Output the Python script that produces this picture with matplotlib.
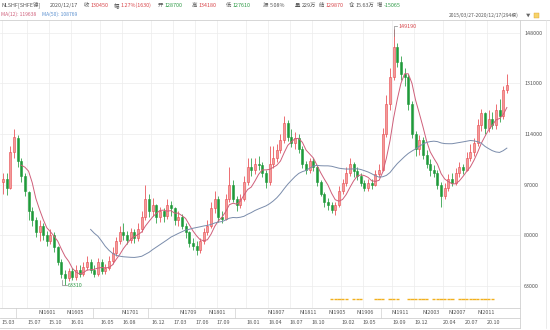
import numpy as np
import pandas as pd
import matplotlib
matplotlib.use('Agg')
import matplotlib.pyplot as plt
from matplotlib.lines import Line2D
from matplotlib.patches import Rectangle
from matplotlib.transforms import blended_transform_factory

plt.rcParams['font.family'] = ['Noto Sans CJK SC', 'DejaVu Sans']

# 半月K线 (单位: 千元/吨), 2015/03 下半月 -> 2020/12 下半月
opens = [98, 99, 96, 108, 112.5, 105, 100, 94.5, 88, 85,
         81, 83, 80, 78, 80, 76, 71, 67, 65.5, 68,
         66, 68.5, 67, 69.5, 71, 68.5, 67, 71, 68, 69,
         71.5, 74, 78, 81, 80, 78.5, 81, 79, 82, 86,
         92, 88, 90, 86, 88, 86.5, 90, 89, 85, 86,
         83, 81, 77.5, 76.5, 75, 78, 81, 83, 89, 92,
         86, 85.5, 92, 97, 92, 90, 92, 98, 103, 102,
         104, 103.5, 101, 98, 104, 106, 108.5, 112, 117.5, 113,
         111, 112.5, 109, 104, 102, 105, 103, 98, 94, 91,
         90, 88.5, 90, 95, 97.5, 101, 104, 101.5, 100, 97.5,
         96, 97.5, 97, 100.5, 102, 114, 124, 133, 143, 138,
         134, 133, 124, 114, 109, 112, 107, 104, 102, 101,
         97, 93, 96, 99, 97.5, 101, 103, 102, 106, 108,
         111, 117, 121, 116, 119, 117, 122, 120, 128.7]
highs = [101, 101, 110, 115.5, 113.5, 106, 101, 95, 89.5, 86,
         85, 84, 81.5, 82, 81, 76.5, 72, 68.5, 69, 69,
         70, 70, 71, 73, 72, 70, 72.5, 72, 70.5, 73,
         76, 79.5, 83, 84, 81.5, 82.5, 82, 84, 88, 97,
         94, 92.5, 90.5, 89.5, 89, 92, 91.5, 89.5, 88, 87,
         84, 81.5, 79, 78, 79, 82.5, 85, 91, 95, 93,
         88, 94, 103, 98.5, 93, 94, 100, 106, 106, 106,
         106.5, 104.5, 102, 110, 110, 110.5, 114, 119.9, 118.5, 115.5,
         114.5, 114, 110, 105, 106, 106, 103.5, 98.5, 94.5, 92.5,
         91, 91, 96.5, 99, 103, 106, 104.5, 103, 101, 98.5,
         99, 99, 102, 104, 116, 127, 136, 149.19, 144.5, 140,
         136, 134, 125, 115, 113.5, 113, 108.5, 105.5, 103.5, 102,
         98, 97.5, 100.5, 101, 102.5, 104.5, 104, 108, 110.5, 112.5,
         119, 122.5, 121.5, 122, 121.5, 124, 125.6, 130, 134.18]
lows = [94, 93.5, 95.5, 106, 103, 98, 93, 85, 83, 79.5,
        78, 78.5, 76.5, 77, 74.5, 70, 65.5, 63.31, 64.5, 65,
        65, 66, 66.5, 68.5, 67.5, 66, 66.5, 67, 67, 68.5,
        70.5, 73, 77, 78.5, 77, 77.5, 77.5, 78, 81, 85,
        86, 86.5, 84, 84.5, 84.5, 85.5, 86.5, 83.5, 83, 82,
        79, 76, 75, 73.5, 74, 77, 80, 82.5, 87.5, 84.5,
        84, 85, 91, 91, 88, 89, 91.5, 97, 100, 100.5,
        102, 99.5, 96, 97, 102.5, 104.5, 107.5, 111, 111.5, 109.5,
        109, 107.5, 102.5, 100.5, 101, 101.5, 96.5, 93, 89.5, 88.5,
        87.5, 86.9, 89.5, 94, 96.5, 100, 99.5, 98.5, 96.5, 95,
        95, 95.5, 96.5, 99.5, 101.5, 113, 122, 132, 136.5, 132,
        130, 122, 112.5, 106.5, 107, 105.5, 102.5, 100, 99.5, 95.5,
        89.6, 92, 95, 96.5, 97, 99.5, 100.5, 101.5, 105, 106.5,
        110, 115, 114, 114.5, 115.5, 115.5, 118, 119, 127.61]
closes = [99, 96, 108, 113, 105, 100, 95, 88, 85, 81,
          83, 80, 78, 80, 76, 71, 67, 65.5, 68, 66,
          68.5, 67, 69.5, 71, 68.5, 67, 71, 68, 69, 71.5,
          74, 78, 81, 80, 78.5, 81, 79, 82, 86, 92,
          88, 90, 86, 88, 86.5, 90, 89, 85, 86, 83,
          81, 77.5, 76.5, 75, 78, 81, 83, 89, 92, 86,
          85.5, 92, 97, 92, 90, 92, 98, 103, 102, 104,
          103.5, 101, 98, 104, 106, 108.5, 112, 117.5, 113, 111,
          112.5, 109, 104, 102, 105, 103, 98, 94, 91, 90,
          88.5, 90, 95, 97.5, 101, 104, 101.5, 100, 97.5, 96,
          97.5, 97, 100.5, 102, 114, 124, 133, 143, 138, 134,
          133, 124, 114, 109, 112, 107, 104, 102, 101, 97,
          93, 96, 99, 97.5, 101, 103, 102, 106, 108, 111,
          117, 121, 116, 119, 117, 122, 120, 128.7, 130.45]

price_ticks = [63000, 80000, 97000, 114000, 131000, 148000]
date_labels = ['15.03', '15.07', '15.10', '16.01', '16.05', '16.08', '16.12',
               '17.03', '17.06', '17.09', '18.01', '18.04', '18.07', '18.10',
               '19.02', '19.05', '19.09', '19.12', '20.04', '20.07', '20.10']
contract_labels = ['NI1601', 'NI1605', 'NI1701', 'NI1709', 'NI1801', 'NI1807', 'NI1811',
                   'NI1905', 'NI1906', 'NI1911', 'NI2003', 'NI2007', 'NI2011']
contract_pos = [12.2, 19.7, 34.8, 50.7, 58.6, 74.8, 83.6, 91.5, 99.2, 108.8, 117.3, 124.4, 132.3]
contract_seps = [3.6, 24.6, 39.7, 63.5, 103.5]
signal_bars = [90, 91, 92, 93, 94, 96, 97, 98, 102, 103, 104, 106, 107, 108,
               111, 112, 113, 114, 115, 116, 118, 119, 120, 121, 122, 123,
               125, 126, 127, 128, 129, 130, 131, 132, 133, 134]

df = pd.DataFrame({'open': opens, 'high': highs, 'low': lows, 'close': closes}) * 1000
df['ma12'] = df['close'].rolling(6).mean()
df['ma50'] = df['close'].rolling(25).mean()
x = np.arange(len(df))

W, H = 550, 330
def fx(px):
    return px / W
def fy(py):
    return 1 - py / H

fig = plt.figure(figsize=(5.5, 3.3), dpi=100)
ax = fig.add_axes([0, fy(308), fx(520), (308 - 20) / H])

# K线
up = df['close'] >= df['open']
col = np.where(up, '#e8474c', '#1f9a3a')
face = np.where(up, '#f29a9a', '#1f9a3a')
ax.vlines(x, df['low'], df['high'], colors=col, lw=0.55, zorder=3)
body = (df['close'] - df['open']).abs().clip(lower=250)
ax.bar(x, body, bottom=np.minimum(df['open'], df['close']), width=0.55,
       color=face, edgecolor=col, linewidth=0.4, zorder=4)

ax.plot(x, df['ma12'], color='#cf5f7a', lw=0.7, zorder=5)
ax.plot(x, df['ma50'], color='#7a8cab', lw=0.7, zorder=5)

# 信号条
sig_y = 58600
ax.hlines([sig_y] * len(signal_bars), np.array(signal_bars) - 0.45, np.array(signal_bars) + 0.45,
          colors='#f2b01e', lw=1.0, zorder=3)

# 最高/最低标注
i_hi = int(df['high'].idxmax())
i_lo = int(df['low'].idxmin())
hi = df['high'].max()
lo = df['low'].min()
ax.plot([i_hi, i_hi, i_hi + 1.0], [hi - 2500, hi + 900, hi + 900], color='#888888', lw=0.5, zorder=6)
ax.text(i_hi + 1.2, hi + 900, f'{hi:.0f}', color='#d8464b', fontsize=3.9, va='center', zorder=6)
ax.plot([i_lo - 0.8, i_lo - 0.8, i_lo + 0.6], [lo + 1800, lo, lo], color='#888888', lw=0.5, zorder=6)
ax.text(i_lo + 0.8, lo, f'{lo:.0f}', color='#2e9a46', fontsize=3.9, va='center', zorder=6)

ax.set_xlim(-0.82, 141.6)
ax.set_ylim(55600, 152200)

def date_pos(s):
    yy, mm = s.split('.')
    m = (int(yy) - 15) * 12 + int(mm) - 3
    return max(2 * m - 1, 0) - 0.4

dpos = [date_pos(s) for s in date_labels]
ax.set_xticks(dpos)
ax.set_xticklabels([])
ax.set_yticks(price_ticks)
ax.yaxis.tick_right()
ax.tick_params(axis='both', length=0, pad=3, labelsize=3.9, labelcolor='#555555')
ax.grid(color='#ececec', lw=0.5, zorder=0)
for s in ['left', 'top']:
    ax.spines[s].set_visible(False)
for s in ['right', 'bottom']:
    ax.spines[s].set_color('#d0d0d0')
    ax.spines[s].set_linewidth(0.6)

# 底部两行: 主力合约 + 日期
tr = blended_transform_factory(ax.transData, fig.transFigure)
for lab, p in zip(contract_labels, contract_pos):
    fig.text(p, fy(313), lab, transform=tr, fontsize=3.9, color='#555555', ha='center', va='center')
for p in contract_seps:
    fig.add_artist(Line2D([p, p], [fy(308), fy(318)], transform=tr, color='#d0d0d0', lw=0.5))
for lab, p in zip(date_labels, dpos):
    fig.text(p, fy(323), lab, transform=tr, fontsize=3.9, color='#555555', ha='left', va='center')
for py in [318, 328]:
    fig.add_artist(Line2D([0, fx(520)], [fy(py), fy(py)], transform=fig.transFigure, color='#d0d0d0', lw=0.6))
fig.add_artist(Line2D([fx(520), fx(520)], [fy(308), fy(328)], transform=fig.transFigure, color='#d0d0d0', lw=0.6))
fig.add_artist(Line2D([0, 1], [fy(20), fy(20)], transform=fig.transFigure, color='#d0d0d0', lw=0.6))
fig.add_artist(Line2D([fx(546), fx(546)], [fy(20), fy(328)], transform=fig.transFigure, color='#e4e4e4', lw=0.5))

# 顶部行情信息
red, green, gray = '#d8464b', '#2e9a46', '#555555'
header = [(1, 'NLSHF[SHFE镍]', gray), (50, '2020/12/17', gray),
          (84, '收', gray), (90.5, '130450', red),
          (114, '幅', gray), (120.5, '1.27%(1630)', red),
          (158, '开', gray), (164.5, '128700', green),
          (192, '高', gray), (198.5, '134180', red),
          (226, '低', gray), (232.5, '127610', green),
          (263, '振', gray), (269.5, '5.08%', gray),
          (295, '量', gray), (301.5, '229万', gray),
          (319, '结', gray), (325.5, '129870', red),
          (349, '仓', gray), (355.5, '15.63万', gray),
          (377, '增', gray), (383.5, '-15065', green)]
for px, t, c in header:
    fig.text(fx(px), fy(5.5), t, fontsize=3.9, color=c, ha='left', va='center')
fig.text(fx(1), fy(14), 'MA(12): 119638', fontsize=3.6, color='#cf5f7a', ha='left', va='center')
fig.text(fx(42), fy(14), 'MA(50): 108769', fontsize=3.6, color='#5b90cf', ha='left', va='center')
fig.text(fx(449), fy(15), '2015/03/27-2020/12/17(294根)', fontsize=3.5, color=gray, ha='left', va='center')
fig.text(fx(526), fy(15), '▼', fontsize=3.2, color='#666666', ha='left', va='center')
fig.add_artist(Rectangle((fx(534), fy(17.5)), fx(5), 5 / H, transform=fig.transFigure,
                         facecolor='#f5d36a', edgecolor='#e0a030', lw=0.3))

fig.savefig('out.png', dpi=100)
